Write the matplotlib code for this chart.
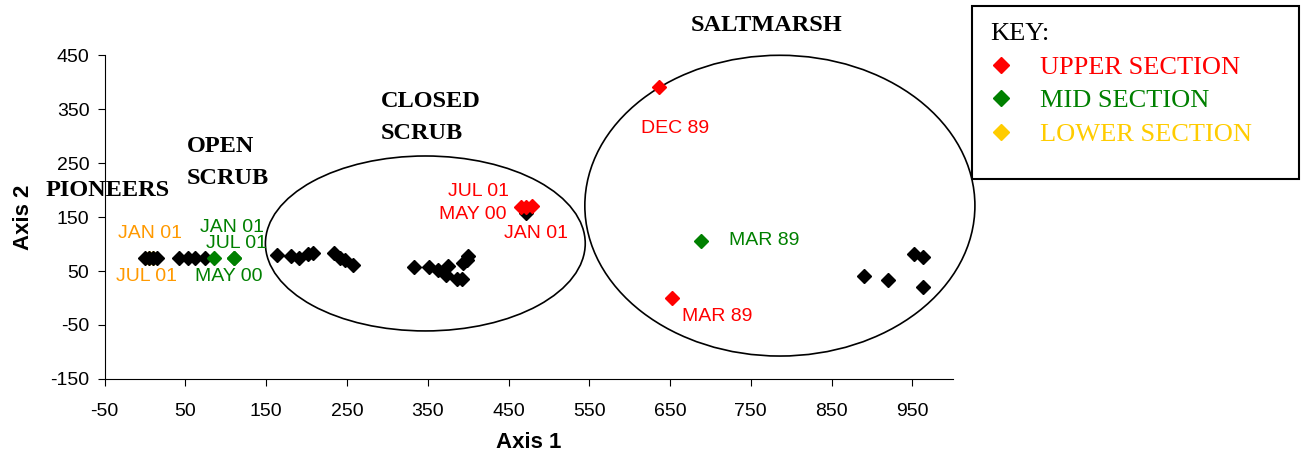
# Ordination plot of the saltmarsh / scrub survey sites (Axis 1 vs Axis 2)
import matplotlib
matplotlib.use('Agg')
import matplotlib.pyplot as plt
from matplotlib.patches import Ellipse, Rectangle

plt.rcParams['axes.unicode_minus'] = False

# all sites (black)
site_x = [0, 5, 10, 15, 42, 53, 62, 74, 163, 181, 190, 202, 208, 234, 241, 247,
          258, 333, 351, 363, 375, 373, 386, 392, 394, 400, 398, 472,
          890, 920, 952, 963, 963]
site_y = [75, 75, 75, 75, 75, 75, 75, 75, 79, 78, 75, 81, 83, 83, 75, 70,
          62, 58, 58, 52, 59, 43, 35, 35, 64, 78, 70, 158,
          41, 33, 81, 76, 20]

# highlighted sections
upper_x = [472, 466, 479, 636, 653]
upper_y = [168, 169, 170, 390, 0]
mid_x = [110, 85, 110, 688]
mid_y = [75, 75, 75, 105]
lower_x = [5, 10]
lower_y = [75, 75]

# point labels: (text, x, y, colour)
point_labels = [
    ('JAN 01', 6, 120, '#FF9900'),
    ('JUL 01', 2, 39, '#FF9900'),
    ('JAN 01', 108, 130, '#008000'),
    ('JUL 01', 113, 101, '#008000'),
    ('MAY 00', 103, 39, '#008000'),
    ('JUL 01', 413, 197, '#FF0000'),
    ('MAY 00', 406, 155, '#FF0000'),
    ('JAN 01', 484, 120, '#FF0000'),
    ('DEC 89', 656, 314, '#FF0000'),
    ('MAR 89', 766, 107, '#008000'),
    ('MAR 89', 708, -35, '#FF0000'),
]

# zone names: (text, x, y)
zones = [
    ('PIONEERS', -47, 200),
    ('OPEN\nSCRUB', 52, 251),
    ('CLOSED\nSCRUB', 292, 334),
    ('SALTMARSH', 769, 505),
]

fig = plt.figure(figsize=(13.04, 4.57), dpi=100)
ax = fig.add_axes([0.0803, 0.1707, 0.6503, 0.7089])

ms = 6.8
ax.plot(lower_x, lower_y, 'D', color='#FFCC00', ms=ms, label='LOWER SECTION', zorder=2)
ax.plot(site_x, site_y, 'D', color='black', ms=ms, zorder=3)
ax.plot(upper_x, upper_y, 'D', color='#FF0000', ms=ms, label='UPPER SECTION', zorder=4)
ax.plot(mid_x, mid_y, 'D', color='#008000', ms=ms, label='MID SECTION', zorder=4)

for txt, x, y, c in point_labels:
    ax.text(x, y, txt, color=c, ha='center', va='center', fontsize=14,
            family='Liberation Sans', clip_on=False)

for txt, x, y in zones:
    ax.text(x, y, txt, ha='center' if txt in ('PIONEERS', 'SALTMARSH') else 'left',
            va='center', fontsize=17.5, fontweight='bold', family='Liberation Serif',
            linespacing=1.65, clip_on=False, zorder=5)

# zone outlines
ax.add_patch(Ellipse((347, 101), 396, 324, fill=False, lw=1.2, ec='black', clip_on=False))
ax.add_patch(Ellipse((786, 171), 483, 557, fill=False, lw=1.2, ec='black', clip_on=False))

ax.set_xlim(-50, 1000)
ax.set_ylim(-150, 450)
ax.set_xticks(range(-50, 1000, 100))
ax.set_yticks(range(-150, 451, 100))
for s in ['top', 'right']:
    ax.spines[s].set_visible(False)
ax.tick_params(direction='out', length=5, labelsize=14)
ax.tick_params(axis='x', pad=12)
ax.tick_params(axis='y', pad=6)
for lab in ax.get_xticklabels() + ax.get_yticklabels():
    lab.set_family('Liberation Sans')
ax.set_xlabel('Axis 1', fontsize=16, fontweight='bold', family='Liberation Sans', labelpad=9)
ax.set_ylabel('Axis 2', fontsize=16, fontweight='bold', family='Liberation Sans', labelpad=12)

# key box
fig.patches.append(Rectangle((972 / 1304, 1 - 179 / 457), 327 / 1304, 173 / 457,
                             transform=fig.transFigure, fill=False, lw=1.5, ec='black'))
handles, labels = ax.get_legend_handles_labels()
order = [1, 2, 0]
leg = fig.legend([handles[i] for i in order], [labels[i] for i in order],
                 loc='upper left', bbox_to_anchor=(985 / 1304, 1 - 18 / 457),
                 frameon=False, title='KEY:', alignment='left',
                 prop={'family': 'Liberation Serif', 'size': 19},
                 title_fontproperties={'family': 'Liberation Serif', 'size': 19},
                 handlelength=0.8, handletextpad=1.1, labelspacing=0.38,
                 borderpad=0.2, borderaxespad=0, markerscale=1.2)
for t, c in zip(leg.get_texts(), ['#FF0000', '#008000', '#FFCC00']):
    t.set_color(c)

plt.savefig('out.png', dpi=100)
